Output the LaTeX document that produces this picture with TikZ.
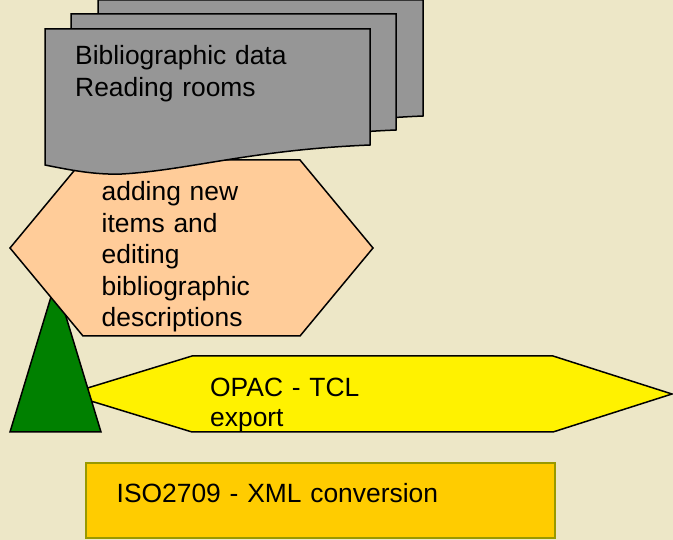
\documentclass[tikz,border=0pt]{standalone}
\usepackage{fontspec}
\setmainfont{Liberation Sans}
\definecolor{parchment}{RGB}{237,231,199}
\definecolor{pagegray}{RGB}{150,150,150}
\definecolor{peach}{RGB}{255,204,153}
\definecolor{leaf}{RGB}{0,128,0}
\definecolor{amber}{RGB}{255,204,0}
\definecolor{olive}{RGB}{153,153,0}
\begin{document}
\begin{tikzpicture}[x=1pt,y=-1pt,
    outline/.style={draw=black,line width=1.5pt,line join=miter},
    label/.style={anchor=base west,inner sep=0pt,align=left,text width=#1},
    label/.default=300pt]
    \fill[parchment] (0,0) rectangle (673,540);
    \useasboundingbox (0,0) rectangle (673,540);
    \draw[outline,fill=yellow] (68,394) -- (192,356) -- (553,356) -- (672,394) -- (553,432) -- (192,432) -- cycle;
    \draw[outline,fill=leaf] (10,432) -- (101,432) -- (55.5,282) -- cycle;
    \draw[outline,fill=peach] (10,248) -- (83,160) -- (300,160) -- (373,248) -- (300,336) -- (83,336) -- cycle;
    \foreach \dx/\dy in {53/-29,26/-15,0/0} {
        \draw[outline,fill=pagegray,shift={(\dx,\dy)}] (45,29) -- (370,29) -- (370,145)
            .. controls (250,150) and (190,170) .. (122,174)
            .. controls (95,175) and (70,170) .. (45,165) -- cycle;
    }
    \draw[draw=olive,line width=2pt,fill=amber] (86,463) rectangle (555,538);
    \node[label,font=\fontsize{26.4}{32.5}\selectfont] (data) at (75,64.5) {Bibliographic data\\Reading rooms};
    \node[label=200pt,font=\fontsize{26.4}{31.6}\selectfont] (edit) at (101.5,200.5) {adding new\\items and\\editing\\bibliographic\\descriptions};
    \node[label,font=\fontsize{26.4}{30}\selectfont] (opac) at (210,397) {OPAC - TCL\\export};
    \node[label=400pt,font=\fontsize{26.4}{30}\selectfont] (iso) at (116.5,503) {ISO2709 - XML conversion};
\end{tikzpicture}
\end{document}
